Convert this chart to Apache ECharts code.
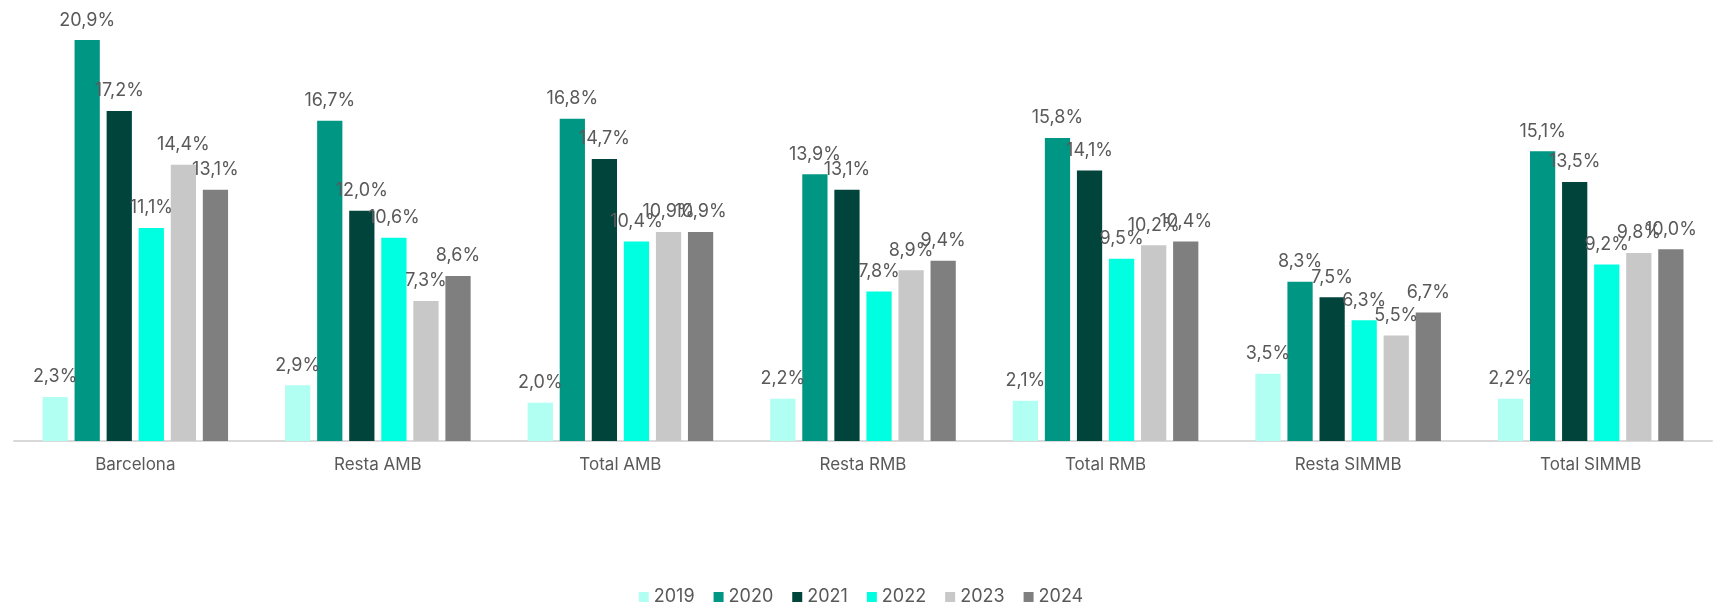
<!DOCTYPE html>
<html>
<head>
<meta charset="utf-8">
<script src="https://cdn.jsdelivr.net/npm/echarts@6/dist/echarts.min.js"></script>
<style>
  html, body { margin: 0; padding: 0; background: #fff; }
  #chart { width: 1722px; height: 611px; }
</style>
</head>
<body>
<div id="chart"></div>
<script>
const categories = ['Barcelona', 'Resta AMB', 'Total AMB', 'Resta RMB', 'Total RMB', 'Resta SIMMB', 'Total SIMMB']
const years = ['2019', '2020', '2021', '2022', '2023', '2024']
const colors = ['#b0fff2', '#009684', '#00443b', '#00ffe0', '#c8c8c8', '#7f7f7f']

const values2019 = [2.3, 2.9, 2.0, 2.2, 2.1, 3.5, 2.2]
const values2020 = [20.9, 16.7, 16.8, 13.9, 15.8, 8.3, 15.1]
const values2021 = [17.2, 12.0, 14.7, 13.1, 14.1, 7.5, 13.5]
const values2022 = [11.1, 10.6, 10.4, 7.8, 9.5, 6.3, 9.2]
const values2023 = [14.4, 7.3, 10.9, 8.9, 10.2, 5.5, 9.8]
const values2024 = [13.1, 8.6, 10.9, 9.4, 10.4, 6.7, 10.0]

const seriesValues = [values2019, values2020, values2021, values2022, values2023, values2024]
const fontFamily = 'Inter, "Noto Sans", sans-serif'

const chart = echarts.init(document.getElementById('chart'))

chart.setOption({
  animation: false,
  color: colors,
  grid: { left: 14, right: 10, top: 19, bottom: 170, containLabel: false },
  legend: {
    bottom: 0,
    left: 'center',
    itemWidth: 10,
    itemHeight: 10,
    itemGap: 19,
    icon: 'rect',
    textStyle: { color: '#595959', fontSize: 18, fontFamily: fontFamily }
  },
  xAxis: {
    type: 'category',
    data: categories,
    axisLine: { lineStyle: { color: '#d9d9d9', width: 2 } },
    axisTick: { show: false },
    axisLabel: { color: '#595959', fontSize: 17, margin: 15, fontFamily: fontFamily }
  },
  yAxis: {
    type: 'value',
    min: 0,
    max: 22,
    show: false,
    splitLine: { show: false }
  },
  series: years.map((y, i) => ({
    name: y,
    type: 'bar',
    data: seriesValues[i],
    barGap: '27%',
    barCategoryGap: '23.5%',
    itemStyle: { color: colors[i] },
    label: {
      show: true,
      position: 'top',
      distance: 11,
      color: '#595959',
      fontSize: 18,
      fontFamily: fontFamily,
      formatter: p => p.value.toFixed(1).replace('.', ',') + '%'
    }
  }))
})
</script>
</body>
</html>
